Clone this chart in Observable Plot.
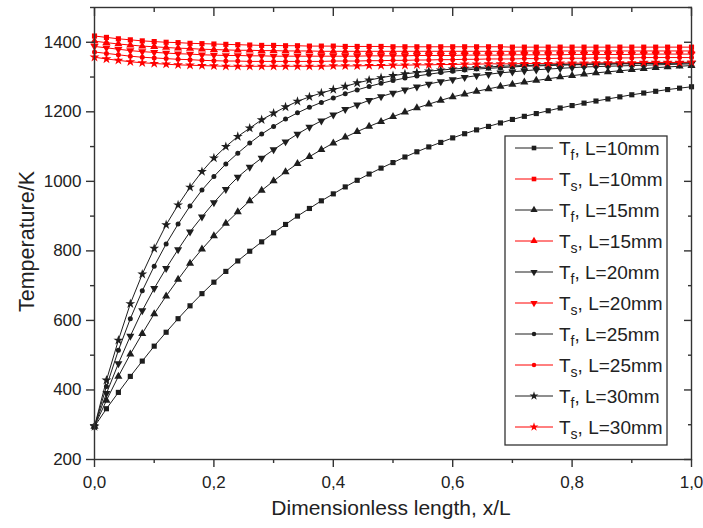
<!DOCTYPE html>
<html><head><meta charset="utf-8">
<script src="https://cdn.jsdelivr.net/npm/d3@7"></script>
<script src="https://cdn.jsdelivr.net/npm/@observablehq/plot@0.6"></script>
<style>body{margin:0;background:#fff}</style>
</head><body><div id="chart"></div>
<script>
// dimensionless length positions
const xs = [0,0.02,0.04,0.06,0.08,0.1,0.12,0.14,0.16,0.18,0.2,0.22,0.24,0.26,0.28,0.3,0.32,0.34,0.36,0.38,0.4,0.42,0.44,0.46,0.48,0.5,0.52,0.54,0.56,0.58,0.6,0.62,0.64,0.66,0.68,0.7,0.72,0.74,0.76,0.78,0.8,0.82,0.84,0.86,0.88,0.9,0.92,0.94,0.96,0.98,1];

// fluid temperatures
const Tf10 = [295,346,393,439,483,526,566,605,642,677,710,741,771,799,826,852,876,900,922,944,964,984,1003,1021,1038,1054,1070,1085,1099,1112,1125,1137,1148,1158,1168,1178,1187,1195,1203,1211,1218,1225,1231,1237,1243,1249,1254,1259,1264,1268,1272];
const Tf15 = [295,370,439,503,562,619,670,718,764,805,843,879,912,944,974,1001,1027,1051,1071,1091,1110,1127,1143,1158,1172,1186,1199,1211,1222,1233,1243,1251,1259,1266,1273,1279,1285,1290,1295,1300,1304,1308,1312,1315,1318,1321,1324,1327,1329,1331,1333];
const Tf20 = [295,390,476,555,628,692,750,804,855,898,939,977,1012,1041,1067,1091,1114,1136,1156,1174,1191,1207,1220,1233,1244,1254,1263,1272,1280,1287,1293,1299,1304,1308,1312,1315,1318,1321,1323,1325,1327,1329,1330,1331,1332,1333,1334,1335,1336,1337,1338];
const Tf25 = [295,410,514,605,685,756,820,877,929,975,1014,1050,1081,1110,1136,1158,1179,1197,1213,1227,1240,1252,1263,1273,1282,1290,1297,1303,1308,1313,1317,1320,1323,1325,1327,1329,1331,1332,1333,1334,1335,1336,1337,1337,1338,1338,1339,1339,1340,1340,1341];
const Tf30 = [295,428,543,648,733,807,875,932,983,1028,1067,1100,1129,1153,1177,1196,1214,1230,1243,1254,1264,1273,1283,1291,1298,1304,1309,1313,1317,1320,1323,1325,1327,1329,1331,1332,1333,1334,1335,1336,1337,1337,1338,1338,1339,1339,1340,1340,1340,1341,1341];

// solid temperatures
const Ts10 = [1418,1414,1410,1407,1404,1402,1400,1399,1397,1396,1395,1394,1393,1392,1391,1391,1390,1390,1389,1389,1389,1388,1388,1388,1388,1387,1387,1387,1387,1387,1387,1387,1387,1387,1387,1386,1386,1386,1386,1386,1386,1386,1386,1386,1386,1386,1386,1386,1386,1386,1386];
const Ts15 = [1403,1399,1395,1392,1389,1387,1385,1383,1382,1380,1379,1378,1377,1377,1376,1376,1375,1375,1375,1374,1374,1374,1374,1374,1374,1374,1374,1374,1374,1374,1374,1374,1374,1374,1374,1374,1375,1375,1375,1375,1375,1375,1375,1375,1375,1375,1375,1375,1375,1375,1375];
const Ts20 = [1388,1384,1380,1376,1373,1371,1369,1367,1366,1364,1363,1362,1362,1361,1361,1360,1360,1360,1360,1360,1360,1360,1360,1361,1361,1361,1361,1362,1362,1362,1362,1363,1363,1363,1363,1364,1364,1364,1364,1364,1365,1365,1365,1365,1365,1365,1366,1366,1366,1366,1366];
const Ts25 = [1372,1368,1364,1360,1357,1355,1353,1351,1350,1348,1347,1346,1346,1345,1345,1345,1345,1345,1345,1345,1346,1346,1346,1347,1347,1348,1348,1349,1349,1350,1350,1351,1351,1352,1352,1352,1353,1353,1353,1354,1354,1354,1355,1355,1355,1355,1356,1356,1356,1356,1356];
const Ts30 = [1357,1352,1348,1344,1341,1339,1337,1335,1334,1333,1332,1331,1331,1331,1331,1331,1331,1331,1331,1331,1332,1332,1332,1333,1333,1334,1334,1335,1335,1336,1336,1337,1337,1338,1338,1338,1339,1339,1339,1340,1340,1340,1341,1341,1341,1341,1342,1342,1342,1342,1343];

const yTicks = [200,400,600,800,1000,1200,1400];
const yMinor = [300,500,700,900,1100,1300,1500];
const xTicks = [0,0.2,0.4,0.6,0.8,1.0];
const xMinor = [0.1,0.3,0.5,0.7,0.9];
const lengths = ["10","15","20","25","30"];
const markerNames = ["square","triangle","triangleDown","circle","star"];

const sqrt3 = Math.sqrt(3);
const triangleDown = {
  draw(context, size) {
    const y = -Math.sqrt(size / (sqrt3 * 3));
    context.moveTo(0, -y * 2);
    context.lineTo(-sqrt3 * y, y);
    context.lineTo(sqrt3 * y, y);
    context.closePath();
  }
};
const symbolMap = {square: d3.symbolSquare, triangle: d3.symbolTriangle, triangleDown: triangleDown, circle: d3.symbolCircle, star: d3.symbolStar};
const radiusMap = {square: 2.9, triangle: 3.0, triangleDown: 3.0, circle: 2.5, star: 3.1};

const fluid = [Tf10, Tf15, Tf20, Tf25, Tf30];
const solid = [Ts10, Ts15, Ts20, Ts25, Ts30];
const BLACK = "#1e1e1e", RED = "#ff0000";

function rows(vals, i, kind) {
  return vals.map((T, j) => ({x: xs[j], T, L: lengths[i], kind}));
}

const marks = [];
const groups = [];
fluid.forEach((v, i) => groups.push({data: rows(v, i, "f"), color: BLACK, m: markerNames[i]}));
solid.forEach((v, i) => groups.push({data: rows(v, i, "s"), color: RED, m: markerNames[i]}));
for (const g of groups) {
  marks.push(Plot.line(g.data, {x: "x", y: "T", stroke: g.color, strokeWidth: 1}));
  marks.push(Plot.dot(g.data, {x: "x", y: "T", fill: g.color, stroke: "none", symbol: symbolMap[g.m], r: radiusMap[g.m]}));
}

const fmtX = d => d.toFixed(1).replace(".", ",");
const axisColor = "#333";

const chart = Plot.plot({
  width: 703, height: 528,
  marginLeft: 94, marginRight: 12, marginTop: 7, marginBottom: 69,
  x: {domain: [0, 1]},
  y: {domain: [200, 1500]},
  style: {fontFamily: "'Liberation Sans', Arial, sans-serif", fontSize: "17px", color: "#222", background: "#fff"},
  marks: [
    ...marks,
    Plot.frame({stroke: axisColor, strokeWidth: 1.4}),
    Plot.axisY(yTicks, {anchor: "left", tickSize: 8, tickPadding: 5, tickFormat: d => String(d), label: null, fontSize: 17, stroke: axisColor, strokeWidth: 1.4}),
    Plot.axisY(yMinor, {anchor: "left", tickSize: 4, tickFormat: () => "", label: null, stroke: axisColor, strokeWidth: 1.4}),
    Plot.axisY(yTicks, {anchor: "right", tickSize: 8, dx: -8, tickFormat: () => "", label: null, stroke: axisColor, strokeWidth: 1.4}),
    Plot.axisY(yMinor, {anchor: "right", tickSize: 4, dx: -4, tickFormat: () => "", label: null, stroke: axisColor, strokeWidth: 1.4}),
    Plot.axisX(xTicks, {anchor: "bottom", tickSize: 8, tickPadding: 8, tickFormat: fmtX, label: null, fontSize: 17, stroke: axisColor, strokeWidth: 1.4}),
    Plot.axisX(xMinor, {anchor: "bottom", tickSize: 4, tickFormat: () => "", label: null, stroke: axisColor, strokeWidth: 1.4}),
    Plot.axisX(xTicks, {anchor: "top", tickSize: 8, dy: 8, tickFormat: () => "", label: null, stroke: axisColor, strokeWidth: 1.4}),
    Plot.axisX(xMinor, {anchor: "top", tickSize: 4, dy: 4, tickFormat: () => "", label: null, stroke: axisColor, strokeWidth: 1.4}),
    Plot.text(["Temperature/K"], {text: d => d, frameAnchor: "left", textAnchor: "middle", dx: -67, dy: 8, rotate: -90, fontSize: 21.5, fill: "#222"}),
    Plot.text(["Dimensionless length, x/L"], {text: d => d, frameAnchor: "bottom", textAnchor: "middle", dy: 55, dx: -2, fontSize: 21, fill: "#222"})
  ]
});
document.getElementById("chart").appendChild(chart);

// legend inside the plot area
const svg = d3.select(chart);
const lg = svg.append("g").attr("font-family", "'Liberation Sans', Arial, sans-serif").attr("text-anchor", "start");
const boxX = 505, boxY = 136, boxW = 162, boxH = 309, rowH = 31, firstRow = 148;
lg.append("rect").attr("x", boxX).attr("y", boxY).attr("width", boxW).attr("height", boxH)
  .attr("fill", "#fff").attr("stroke", axisColor).attr("stroke-width", 1.3);
let idx = 0;
lengths.forEach((L, i) => {
  [["f", BLACK], ["s", RED]].forEach(([sub, color]) => {
    const yy = firstRow + idx * rowH;
    lg.append("line").attr("x1", boxX + 10).attr("x2", boxX + 48).attr("y1", yy).attr("y2", yy)
      .attr("stroke", color).attr("stroke-width", 1);
    const m = markerNames[i];
    lg.append("path").attr("transform", `translate(${boxX + 29},${yy})`)
      .attr("d", d3.symbol(symbolMap[m], Math.PI * radiusMap[m] * radiusMap[m] * 0.8)())
      .attr("fill", color);
    const t = lg.append("text").attr("x", boxX + 54).attr("y", yy).attr("dy", "0.35em")
      .attr("text-anchor", "start").attr("font-size", 19).attr("fill", "#222");
    t.append("tspan").text("T");
    t.append("tspan").attr("dy", 5).attr("font-size", 14).text(sub);
    t.append("tspan").attr("dy", -5).text(`, L=${L}mm`);
    idx++;
  });
});
</script>
</body></html>
